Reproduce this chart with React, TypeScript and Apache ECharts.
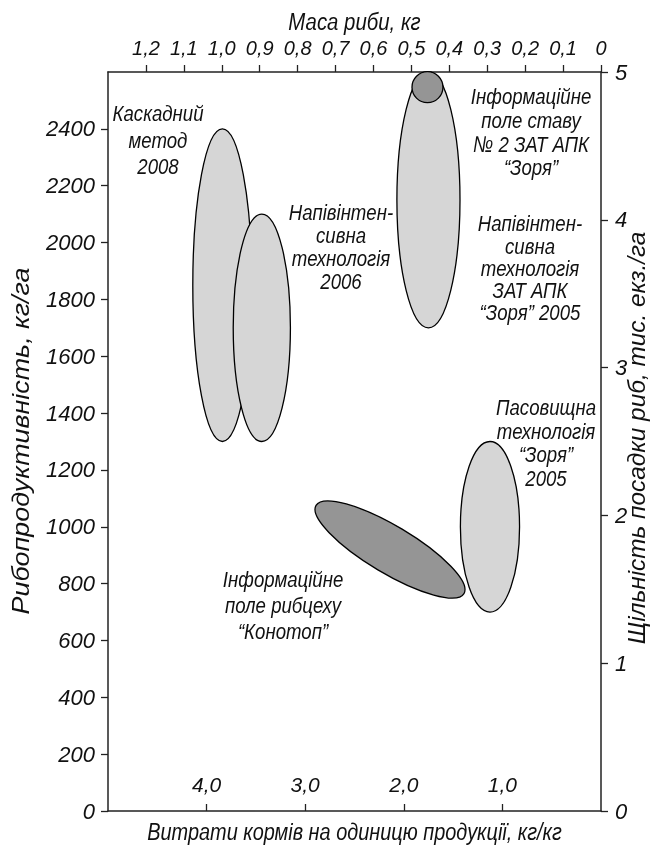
import React, { useEffect, useRef } from "react";
import * as echarts from "echarts";

// ---- axis ranges & ticks ----
const feedRange = [0, 5]; // bottom axis: feed cost, kg/kg (reversed)
const feedStep = 1;
const massRange = [0, 1.3]; // top axis: fish mass, kg (reversed)
const massStep = 0.1;
const prodRange = [0, 2600]; // left axis: productivity, kg/ha
const prodStep = 200;
const densityRange = [0, 5]; // right axis: stocking density, thousand/ha
const densityStep = 1;

// ---- zones (ellipses): one axis from start to end point, half-width in feed units ----
const zoneNames = [
  "Каскадний метод 2008",
  "Напівінтенсивна технологія 2006",
  "Напівінтенсивна технологія ЗАТ АПК Зоря 2005",
  "Інформаційне поле ставу №2",
  "Інформаційне поле рибцеху Конотоп",
  "Пасовищна технологія Зоря 2005",
];
const zoneFeedStart = [3.84, 3.44, 1.75, 1.76, 2.89, 1.126];
const zoneProdStart = [2400, 2100, 2600, 2601, 1075, 1300];
const zoneFeedEnd = [3.84, 3.44, 1.75, 1.76, 1.39, 1.126];
const zoneProdEnd = [1300, 1300, 1700, 2492, 765, 700];
const zoneHalfWidth = [0.3, 0.29, 0.32, 0.157, 0.24, 0.3];
const zoneShade = [0, 0, 0, 1, 1, 0]; // 0 = light, 1 = dark

// ---- texts ----
const titleTop = "Маса риби, кг";
const titleBottom = "Витрати кормів на одиницю продукції, кг/кг";
const titleLeft = "Рибопродуктивність, кг/га";
const titleRight = "Щільність посадки риб, тис. екз./га";
const noteCascade = ["Каскадний", "метод", "2008"];
const noteSemi2006 = ["Напівінтен-", "сивна", "технологія", "2006"];
const noteInfoPond = ["Інформаційне", "поле ставу", "№ 2 ЗАТ АПК", "“Зоря”"];
const noteSemi2005 = ["Напівінтен-", "сивна", "технологія", "ЗАТ АПК", "“Зоря” 2005"];
const notePasture = ["Пасовищна", "технологія", "“Зоря”", "2005"];
const noteKonotop = ["Інформаційне", "поле рибцеху", "“Конотоп”"];

const SHADES = ["#d6d6d6", "#959595"];
const INK = "#111";
const FONT = "'Liberation Sans', Arial, sans-serif";

const comma = (v: number) => (v === 0 ? "0" : v.toFixed(1).replace(".", ","));

function textEl(
  text: string,
  x: number,
  y: number,
  size: number,
  scaleX: number,
  vAlign: string,
  lh?: number,
  rotation = 0
) {
  return {
    type: "text",
    x,
    y,
    rotation,
    scaleX,
    silent: true,
    style: {
      text,
      fontSize: size,
      fontStyle: "italic",
      fontFamily: FONT,
      fill: INK,
      textAlign: "center",
      textVerticalAlign: vAlign,
      align: "center",
      verticalAlign: vAlign,
      lineHeight: lh,
    },
  };
}

const note = (lines: string[], x: number, firstLineY: number, lh: number) =>
  textEl(lines.join("\n"), x, firstLineY - lh / 2, 23, 0.81, "top", lh);

export default function App() {
  const ref = useRef<HTMLDivElement>(null);

  useEffect(() => {
    if (!ref.current) return;
    const chart = echarts.init(ref.current, null, { renderer: "svg" });

    const data = zoneNames.map((n, i) => ({
      name: n,
      value: [
        zoneFeedStart[i],
        zoneProdStart[i],
        zoneFeedEnd[i],
        zoneProdEnd[i],
        zoneHalfWidth[i],
        zoneShade[i],
      ],
    }));

    const axisLine = { show: true, onZero: false, lineStyle: { color: "#222", width: 1.5 } };
    const tick = (inside: boolean) => ({
      show: true,
      inside,
      length: 7,
      lineStyle: { color: "#222", width: 1.3 },
    });
    const lbl = (size: number) => ({
      fontSize: size,
      fontStyle: "italic",
      fontFamily: FONT,
      color: INK,
    });

    const option = {
      animation: false,
      grid: { left: 108, right: 55, top: 72, bottom: 38 },
      xAxis: [
        {
          type: "value",
          position: "bottom",
          min: feedRange[0],
          max: feedRange[1],
          interval: feedStep,
          inverse: true,
          axisLine,
          axisTick: tick(true),
          splitLine: { show: false },
          axisLabel: {
            ...lbl(21),
            inside: true,
            margin: 16,
            showMinLabel: false,
            showMaxLabel: false,
            formatter: (v: number) => comma(v),
          },
        },
        {
          type: "value",
          position: "top",
          min: massRange[0],
          max: massRange[1],
          interval: massStep,
          inverse: true,
          axisLine,
          axisTick: tick(false),
          splitLine: { show: false },
          axisLabel: {
            ...lbl(20),
            margin: 14,
            showMaxLabel: false,
            formatter: (v: number) => comma(v),
          },
        },
      ],
      yAxis: [
        {
          type: "value",
          position: "left",
          min: prodRange[0],
          max: prodRange[1],
          interval: prodStep,
          axisLine,
          axisTick: tick(false),
          splitLine: { show: false },
          axisLabel: {
            ...lbl(22),
            margin: 13,
            showMaxLabel: false,
            formatter: (v: number) => String(v),
          },
        },
        {
          type: "value",
          position: "right",
          min: densityRange[0],
          max: densityRange[1],
          interval: densityStep,
          axisLine,
          axisTick: tick(false),
          splitLine: { show: false },
          axisLabel: { ...lbl(22), margin: 14, formatter: (v: number) => String(v) },
        },
      ],
      series: [
        {
          type: "custom",
          xAxisIndex: 0,
          yAxisIndex: 0,
          clip: false,
          silent: true,
          encode: { x: [0, 2], y: [1, 3] },
          data,
          renderItem: (params: any, api: any) => {
            const p1 = api.coord([api.value(0), api.value(1)]);
            const p2 = api.coord([api.value(2), api.value(3)]);
            const b = Math.abs(api.size([api.value(4), 0])[0]);
            const dx = p2[0] - p1[0];
            const dy = p2[1] - p1[1];
            const a = Math.sqrt(dx * dx + dy * dy) / 2;
            const ang = Math.atan2(dy, dx);
            return {
              type: "ellipse",
              x: (p1[0] + p2[0]) / 2,
              y: (p1[1] + p2[1]) / 2,
              rotation: -ang,
              shape: { cx: 0, cy: 0, rx: a, ry: b },
              style: {
                fill: SHADES[api.value(5)],
                stroke: "#000",
                lineWidth: 1.3,
              },
            };
          },
        },
      ],
      graphic: [
        textEl(titleTop, 354.5, 22, 24, 0.85, "middle"),
        textEl(titleBottom, 354.5, 832, 24, 0.83, "middle"),
        textEl(titleLeft, 21, 441, 24, 1.12, "middle", undefined, Math.PI / 2),
        textEl(titleRight, 637, 438, 23, 1.06, "middle", undefined, Math.PI / 2),
        note(noteCascade, 158, 113, 26.5),
        note(noteSemi2006, 341, 212, 23),
        note(noteInfoPond, 531, 96, 23.7),
        note(noteSemi2005, 530, 223, 22.3),
        note(notePasture, 546, 407, 23.5),
        note(noteKonotop, 283, 579, 26),
      ],
    };

    chart.setOption(option as any);
    return () => chart.dispose();
  }, []);

  return (
    <div
      ref={ref}
      style={{ position: "fixed", left: 0, top: 0, width: 656, height: 849 }}
    />
  );
}
